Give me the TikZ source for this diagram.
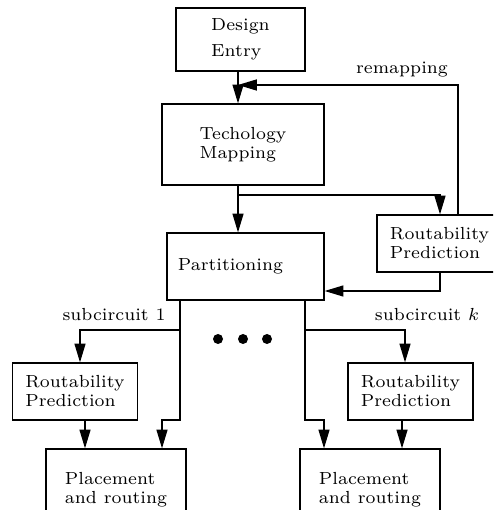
\documentclass[tikz,border=0pt]{standalone}
\usepackage{tikz}
\usetikzlibrary{arrows.meta}

\begin{document}
\begin{tikzpicture}[
	x=0.4pt, y=-0.4pt,
	font=\fontsize{7}{7.6}\selectfont,
	>={Triangle[length=7.5pt,width=4.4pt]},
	line width=0.5pt,
	blocknode/.style={rectangle, draw, align=left, inner sep=0pt},
	prednode/.style={blocknode, minimum width=50pt, minimum height=22.8pt},
	placenode/.style={blocknode, minimum width=56pt, minimum height=32.4pt},
	labelnode/.style={inner sep=1pt},
	]
	\clip (0,0) rectangle (493,510);
	%Nodes
	\node[blocknode, minimum width=51.6pt, minimum height=25.2pt] (entry) at (240.5,39.5) {Design\\[2.6pt]Entry};
	\node[blocknode, minimum width=64.8pt, minimum height=32.4pt] (techmap) at (243,144.5) {Techology\\Mapping};
	\node[blocknode, minimum width=62.8pt, minimum height=26.8pt] (part) at (245.5,266.5) {Partitioning\hspace*{12pt}};
	\node[prednode]      (predtop)  at (439.5,243.5) {Routability\\Prediction};
	\node[prednode]      (pred1)    at (75,391.5)    {Routability\\Prediction};
	\node[prednode]      (predk)    at (410.5,391.5) {Routability\\Prediction};
	\node[placenode]     (place1)   at (116,489.5)   {Placement\\and routing};
	\node[placenode]     (placek)   at (370,489.5)   {Placement\\and routing};
	\node[labelnode]     (remap)    at (402,70)      {remapping};
	\node[labelnode]     (sub1)     at (114,315)     {subcircuit 1};
	\node[labelnode]     (subk)     at (427,315)     {subcircuit $k$};

	%Bends
	\coordinate (mx) at (238,85);
	\coordinate (rx) at (458,85);
	\coordinate (bx) at (238,195);
	\coordinate (px) at (440,291);
	\coordinate (l1) at (180,330);
	\coordinate (l2) at (180,420);
	\coordinate (l3) at (162,420);
	\coordinate (l4) at (80,330);
	\coordinate (l5) at (85,420);
	\coordinate (r1) at (305,330);
	\coordinate (r2) at (305,420);
	\coordinate (r3) at (324,420);
	\coordinate (r4) at (405,330);
	\coordinate (r5) at (402,420);

	%Lines
	\draw[->] (entry.south -| mx) -- (techmap.north -| mx);
	\draw[->] (predtop.north -| rx) -- (rx) -- (mx);
	\draw[->] (techmap.south -| bx) -- (part.north -| bx);
	\draw[->] (bx) -| (predtop.north -| px);
	\draw[->] (predtop.south -| px) -- (px) -- (part.east |- px);
	\draw[->] (part.south -| l1) -- (l2) -- (l3) -- (place1.north -| l3);
	\draw[->] (l1) -- (l4) -- (pred1.north -| l4);
	\draw[->] (pred1.south -| l5) -- (place1.north -| l5);
	\draw[->] (part.south -| r1) -- (r2) -- (r3) -- (placek.north -| r3);
	\draw[->] (r1) -- (r4) -- (predk.north -| r4);
	\draw[->] (predk.south -| r5) -- (placek.north -| r5);

	%Dots
	\foreach \dx in {218,243,267}
		\fill (\dx,339) circle (2pt);
\end{tikzpicture}
\end{document}
